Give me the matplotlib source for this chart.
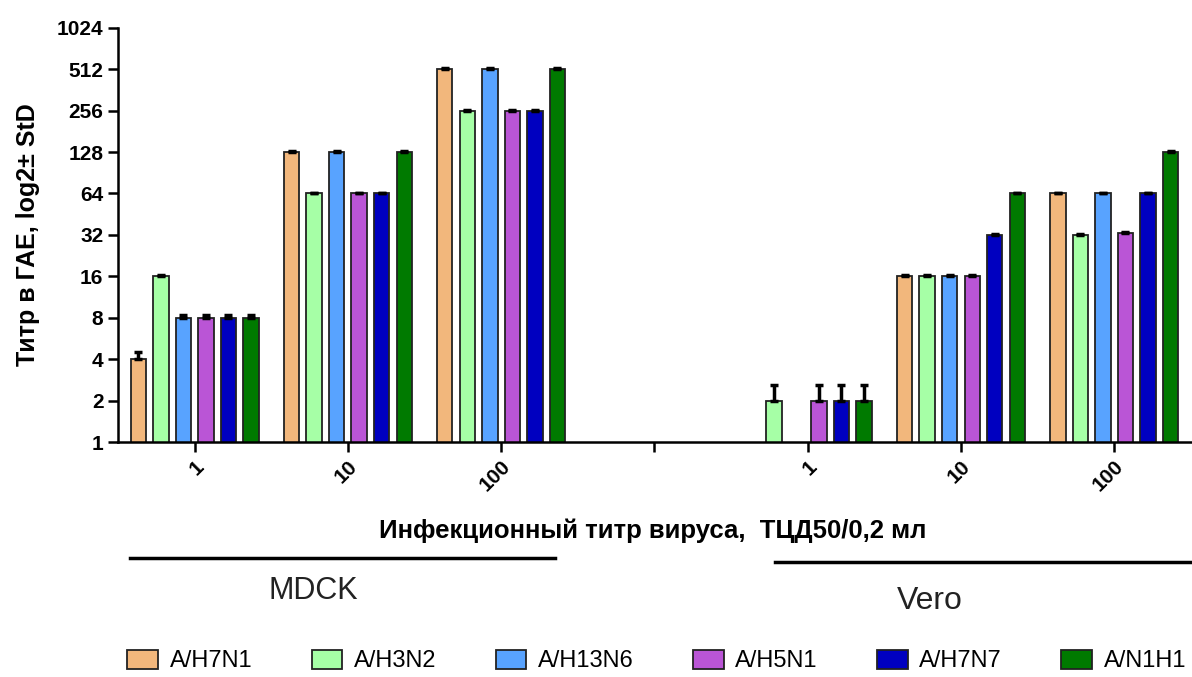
import numpy as np
import matplotlib.pyplot as plt
from matplotlib.lines import Line2D

plt.rcParams['font.family'] = ['Liberation Sans', 'DejaVu Sans']

# data
strains = ["A/H7N1", "A/H3N2", "A/H13N6", "A/H5N1", "A/H7N7", "A/N1H1"]
colors = ["#F2B77C", "#A6FFA6", "#58A3FF", "#BA55D6", "#0000C0", "#007A00"]
dose_labels = ["1", "10", "100", "", "1", "10", "100"]
group_pos = [0, 1, 2, 4, 5, 6]

# rows: MDCK 1, 10, 100, Vero 1, 10, 100
titers = np.array([
    [4, 16, 8, 8, 8, 8],
    [128, 64, 128, 64, 64, 128],
    [512, 256, 512, 256, 256, 512],
    [np.nan, 2, np.nan, 2, 2, 2],
    [16, 16, 16, 16, 32, 64],
    [64, 32, 64, 33, 64, 128],
], dtype=float)
errors = np.array([
    [0.5, 0.3, 0.4, 0.4, 0.4, 0.4],
    [2, 1, 2, 1, 1, 2],
    [8, 4, 8, 4, 4, 8],
    [0, 0.6, 0, 0.6, 0.6, 0.6],
    [0.3, 0.3, 0.3, 0.3, 0.6, 1],
    [1, 0.6, 1, 0.6, 1, 2],
])

fig = plt.figure(figsize=(11.92, 6.77), dpi=100)
ax = fig.add_axes([0.099, 0.347, 0.9, 0.612])

n = len(strains)
slot = 0.147
width = 0.1
x = np.array(group_pos, dtype=float)
for i in range(n):
    off = (i - (n - 1) / 2) * slot
    ax.bar(x + off, titers[:, i], width, color=colors[i], edgecolor="#222222",
           linewidth=1.3, label=strains[i], zorder=2)
    ax.errorbar(x + off, titers[:, i], yerr=[np.zeros(len(x)), errors[:, i]],
                fmt="none", ecolor="black", elinewidth=2.5, capsize=3,
                capthick=2.5, zorder=3)

ax.set_yscale("log", base=2)
ax.set_ylim(1, 1024)
yt = [2 ** k for k in range(11)]
ax.set_yticks(yt)
ax.set_yticklabels([str(v) for v in yt], fontsize=15, fontweight="bold")
ax.minorticks_off()
ax.set_xlim(-0.5, 6.5)
ax.set_xticks(range(7))
ax.set_xticklabels(dose_labels, rotation=45, ha="right", rotation_mode="anchor",
                   fontsize=15, fontweight="bold")

for s in ["top", "right"]:
    ax.spines[s].set_visible(False)
for s in ["left", "bottom"]:
    ax.spines[s].set_linewidth(1.8)
ax.tick_params(axis="both", length=7, width=1.8)

ax.set_ylabel("Титр в ГАЕ, log2± StD", fontsize=18, fontweight="bold")
ax.yaxis.set_label_coords(-0.073, 0.5)
ax.set_xlabel("Инфекционный титр вируса,  ТЦД50/0,2 мл", fontsize=18.5,
              fontweight="bold")
ax.xaxis.set_label_coords(0.498, -0.185)

# cell-line brackets
fig.add_artist(Line2D([130 / 1192, 555 / 1192], [1 - 558 / 677, 1 - 558 / 677],
                      color="black", linewidth=2.5))
fig.add_artist(Line2D([775 / 1192, 1192 / 1192], [1 - 562 / 677, 1 - 562 / 677],
                      color="black", linewidth=2.5))
fig.text(313 / 1192, 1 - 591 / 677, "MDCK", fontsize=22, ha="center", va="center",
         color="#222222")
fig.text(930 / 1192, 1 - 601 / 677, "Vero", fontsize=23, ha="center", va="center",
         color="#222222")

fig.legend(loc="center", bbox_to_anchor=(0.551, 1 - 661 / 677), ncol=6,
           frameon=False, fontsize=17, handlelength=1.3, handleheight=0.85,
           columnspacing=2.5, handletextpad=0.5)

plt.savefig("out.png", dpi=100)
